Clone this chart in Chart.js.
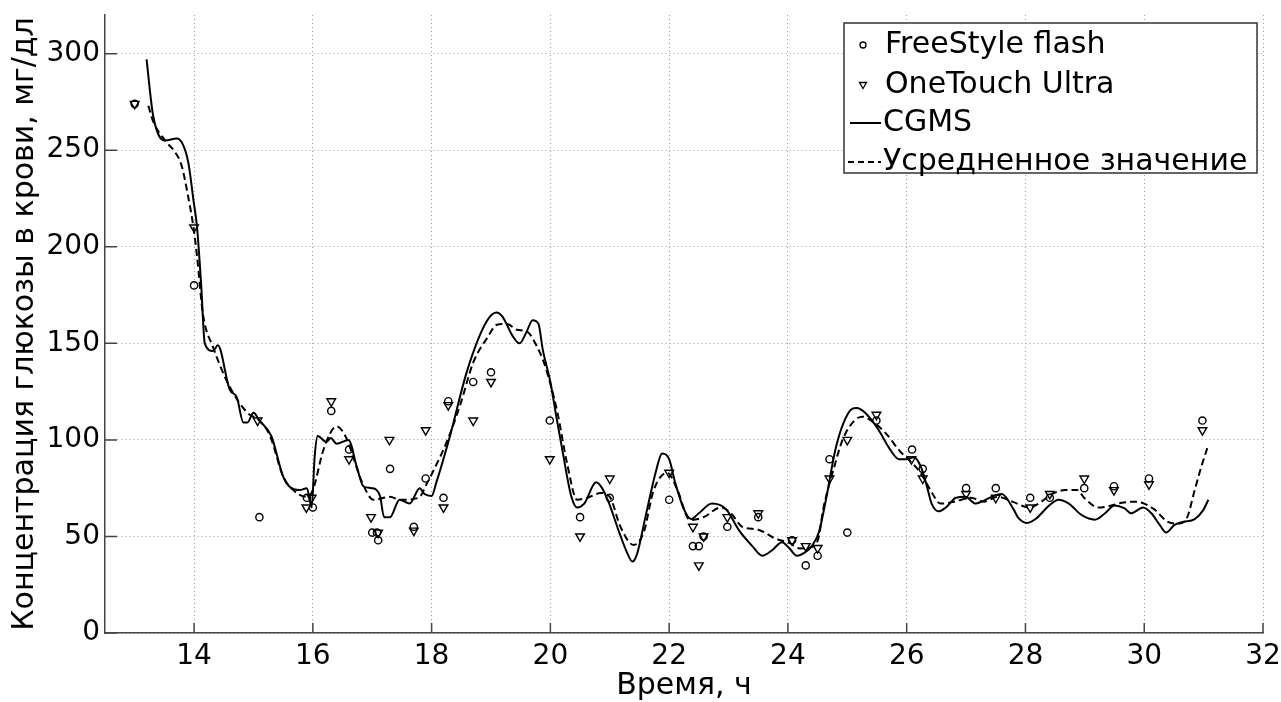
<!DOCTYPE html>
<html>
<head>
<meta charset="utf-8">
<script src="https://cdn.jsdelivr.net/npm/chart.js@4/dist/chart.umd.min.js"></script>
<style>
  html, body { margin: 0; padding: 0; background: #fff; }
  #wrap { width: 1281px; height: 702px; }
</style>
</head>
<body>
<div id="wrap"><canvas id="glucose" width="1281" height="702"></canvas></div>
<script>
// Blood glucose over time: two meters (markers), CGMS and the averaged curve

// --- CGMS (solid line) ---
const cgmsTime = [13.2, 13.31, 13.51, 13.71, 13.9, 13.99, 14.05, 14.12, 14.18, 14.32, 14.4, 14.6, 14.72, 14.83, 14.9, 15.0, 15.1, 15.3, 15.5, 15.6, 15.78, 15.9, 15.98, 16.03, 16.08, 16.23, 16.3, 16.4, 16.6, 16.74, 16.85, 16.99, 17.13, 17.2, 17.3, 17.46, 17.63, 17.8, 17.88, 18.0, 18.08, 18.3, 18.6, 18.92, 19.09, 19.19, 19.36, 19.48, 19.6, 19.7, 19.8, 19.87, 20.0, 20.1, 20.2, 20.35, 20.45, 20.57, 20.77, 20.87, 20.99, 21.16, 21.3, 21.38, 21.46, 21.6, 21.78, 21.88, 22.0, 22.1, 22.25, 22.37, 22.5, 22.72, 22.96, 23.18, 23.4, 23.57, 23.74, 23.9, 24.02, 24.15, 24.3, 24.4, 24.52, 24.64, 24.8, 24.94, 25.08, 25.16, 25.3, 25.53, 25.7, 25.87, 26.0, 26.12, 26.24, 26.34, 26.42, 26.54, 26.66, 26.83, 26.99, 27.16, 27.26, 27.43, 27.6, 27.8, 27.88, 28.03, 28.17, 28.4, 28.56, 28.73, 28.95, 29.17, 29.34, 29.5, 29.67, 29.78, 29.98, 30.12, 30.26, 30.37, 30.51, 30.65, 30.85, 30.99, 31.08];
const cgmsValue = [297, 268, 255, 256, 244, 224, 210, 180, 150, 146, 149, 126, 122, 109, 109, 114, 110, 102, 81, 76, 74, 75, 65, 91, 102, 99, 101, 98, 100, 86, 76, 75, 71, 60, 60, 69, 67, 75, 72, 71, 78, 101, 136, 161, 166, 164, 154, 150, 156, 162, 160, 147, 130, 112, 95, 71, 65, 67, 78, 75, 67, 52, 41, 37, 41, 60, 84, 93, 90, 78, 64, 59, 62, 67, 64, 53, 45, 40, 43, 47, 44, 40, 42, 45, 52, 69, 95, 109, 116, 116.5, 114, 105, 96, 90, 90, 91, 86, 76, 67, 63, 65, 70, 70.5, 67, 68, 70.5, 72, 64, 59.6, 57, 59, 66, 69, 67, 61, 58.7, 62, 66, 64.5, 62, 65, 62, 56, 52, 56, 57.5, 59, 63.5, 69];

// --- averaged value (dashed line) ---
const avgTime = [13.23, 13.31, 13.54, 13.68, 13.79, 13.9, 13.99, 14.05, 14.15, 14.32, 14.6, 14.9, 15.1, 15.28, 15.5, 15.67, 15.9, 16.0, 16.18, 16.4, 16.58, 16.68, 16.83, 17.02, 17.3, 17.47, 17.78, 17.93, 18.03, 18.27, 18.49, 18.7, 18.94, 19.1, 19.27, 19.44, 19.61, 19.78, 19.88, 20.0, 20.12, 20.28, 20.45, 20.62, 20.85, 21.0, 21.18, 21.4, 21.57, 21.74, 21.97, 22.14, 22.35, 22.58, 22.87, 23.04, 23.23, 23.5, 23.78, 24.03, 24.2, 24.33, 24.5, 24.6, 24.78, 24.92, 25.12, 25.26, 25.4, 25.66, 25.89, 26.06, 26.23, 26.4, 26.57, 26.8, 27.08, 27.3, 27.53, 27.78, 28.06, 28.22, 28.45, 28.67, 28.87, 29.0, 29.23, 29.45, 29.62, 29.83, 30.0, 30.17, 30.4, 30.57, 30.71, 30.85, 30.96, 31.07];
const avgValue = [273, 265, 254, 249, 242, 226, 210, 195, 165, 148, 127.5, 114, 110, 102, 81, 74, 70.5, 74, 95, 107, 100, 91, 78, 69, 70.5, 69, 70, 78, 84, 100, 119, 140, 153, 159.6, 160, 157, 156, 148, 141, 129, 114, 88, 69, 70, 72.5, 70.5, 55, 45.6, 52, 74, 83, 74, 58.5, 60, 65, 62, 55, 53.5, 49, 46.5, 43.8, 44, 47.7, 65, 86, 100, 110, 112, 110, 103, 94, 89, 83, 74, 67, 68, 70, 68, 70.5, 68, 65, 67, 72, 74, 74, 69.6, 65, 66, 67.4, 68, 67, 64, 57.5, 56.6, 59, 74, 86, 96.5];

// --- FreeStyle flash (circles) ---
const freeStyleTime = [13.0, 14.0, 15.1, 15.9, 16.0, 16.31, 16.61, 17.0, 17.08, 17.1, 17.3, 17.7, 17.9, 18.2, 18.28, 18.7, 19.0, 19.99, 20.5, 21.0, 22.0, 22.4, 22.5, 22.58, 22.98, 23.5, 24.07, 24.3, 24.5, 24.7, 25.0, 25.49, 26.09, 26.27, 27.0, 27.5, 28.08, 28.41, 28.99, 29.49, 30.08, 30.98];
const freeStyleValue = [274, 180, 60, 70, 65, 115, 95, 52, 52, 48, 85, 55, 80, 70, 120, 130, 135, 110, 60, 70, 69, 45, 45, 50, 55, 60, 48, 35, 40, 90, 52, 110, 95, 85, 75, 75, 70, 70, 75, 76, 80, 110];

// --- OneTouch Ultra (down triangles) ---
const oneTouchTime = [13.0, 14.0, 15.07, 15.89, 15.98, 16.31, 16.61, 16.98, 17.1, 17.29, 17.7, 17.9, 18.2, 18.28, 18.7, 19.0, 19.99, 20.5, 21.0, 22.0, 22.4, 22.5, 22.58, 22.98, 23.5, 24.07, 24.3, 24.5, 24.7, 25.0, 25.49, 26.08, 26.27, 27.0, 27.5, 28.08, 28.41, 28.99, 29.49, 30.08, 30.98];
const oneTouchValue = [274, 210, 110, 65, 70, 120, 90, 60, 52, 100, 53, 105, 65, 118, 110, 130, 90, 50, 80, 83, 55, 35, 50, 60, 62, 48, 45, 44, 80, 100, 113, 90, 80, 72, 70, 65, 72, 80, 74, 77, 105];

const xTicks = [14, 16, 18, 20, 22, 24, 26, 28, 30, 32];
const yTicks = [0, 50, 100, 150, 200, 250, 300];

const seriesNames = ['FreeStyle flash', 'OneTouch Ultra', 'CGMS', 'Усредненное значение'];

const toPoints = (xs, ys) => xs.map((x, i) => ({ x, y: ys[i] }));

const FONT = '"DejaVu Sans", Verdana, sans-serif';
Chart.defaults.font.family = FONT;
Chart.defaults.font.size = 28;
Chart.defaults.color = '#000';

// small inward tick marks like the original plot
const innerTicks = {
  id: 'innerTicks',
  afterDatasetsDraw(chart) {
    const { ctx, chartArea, scales: { x, y } } = chart;
    ctx.save();
    ctx.strokeStyle = '#444';
    ctx.lineWidth = 1.5;
    ctx.beginPath();
    x.ticks.forEach(t => {
      const px = x.getPixelForValue(t.value);
      ctx.moveTo(px, chartArea.bottom);
      ctx.lineTo(px, chartArea.bottom - 10);
    });
    y.ticks.forEach(t => {
      const py = y.getPixelForValue(t.value);
      ctx.moveTo(chartArea.left, py);
      ctx.lineTo(chartArea.left + 12, py);
    });
    ctx.stroke();
    ctx.restore();
  }
};

// boxed legend in the upper right corner
const boxLegend = {
  id: 'boxLegend',
  afterDraw(chart) {
    const { ctx, chartArea } = chart;
    const right = chartArea.right - 6, top = chartArea.top + 8;
    const w = 413, h = 150, left = right - w;
    ctx.save();
    ctx.fillStyle = '#fff';
    ctx.fillRect(left, top, w, h);
    ctx.strokeStyle = '#333';
    ctx.lineWidth = 1.5;
    ctx.strokeRect(left, top, w, h);

    const rows = [top + 22, top + 62, top + 100, top + 139];
    const symX = left + 19, textX = left + 39;

    ctx.strokeStyle = '#000';
    ctx.lineWidth = 1.3;
    // circle
    ctx.beginPath();
    ctx.arc(symX, rows[0], 3, 0, Math.PI * 2);
    ctx.stroke();
    // down triangle
    ctx.beginPath();
    ctx.moveTo(symX - 3.5, rows[1] - 2.5);
    ctx.lineTo(symX + 3.5, rows[1] - 2.5);
    ctx.lineTo(symX, rows[1] + 3.5);
    ctx.closePath();
    ctx.stroke();
    // solid
    ctx.lineWidth = 2;
    ctx.beginPath();
    ctx.moveTo(left + 6, rows[2]);
    ctx.lineTo(left + 37, rows[2]);
    ctx.stroke();
    // dashed
    ctx.setLineDash([6, 4]);
    ctx.beginPath();
    ctx.moveTo(left + 4, rows[3]);
    ctx.lineTo(left + 37, rows[3]);
    ctx.stroke();
    ctx.setLineDash([]);

    ctx.fillStyle = '#000';
    ctx.font = '30px ' + FONT;
    ctx.textBaseline = 'middle';
    ctx.textAlign = 'left';
    ctx.fillText(seriesNames[0], textX + 2, rows[0]);
    ctx.fillText(seriesNames[1], textX + 2, rows[1]);
    ctx.fillText(seriesNames[2], textX, rows[2]);
    ctx.fillText(seriesNames[3], textX, rows[3]);
    ctx.restore();
  }
};

new Chart(document.getElementById('glucose'), {
  type: 'scatter',
  data: {
    datasets: [
      {
        label: seriesNames[2],
        data: toPoints(cgmsTime, cgmsValue),
        showLine: true,
        borderColor: '#000',
        borderWidth: 2,
        pointRadius: 0,
        cubicInterpolationMode: 'monotone'
      },
      {
        label: seriesNames[3],
        data: toPoints(avgTime, avgValue),
        showLine: true,
        borderColor: '#000',
        borderWidth: 2,
        borderDash: [7, 4],
        pointRadius: 0,
        cubicInterpolationMode: 'monotone'
      },
      {
        label: seriesNames[0],
        data: toPoints(freeStyleTime, freeStyleValue),
        pointStyle: 'circle',
        pointRadius: 3.6,
        borderColor: '#000',
        borderWidth: 1.4,
        backgroundColor: 'rgba(255,255,255,0)'
      },
      {
        label: seriesNames[1],
        data: toPoints(oneTouchTime, oneTouchValue),
        pointStyle: 'triangle',
        rotation: 180,
        pointRadius: 5,
        borderColor: '#000',
        borderWidth: 1.4,
        backgroundColor: 'rgba(255,255,255,0)'
      }
    ]
  },
  options: {
    responsive: false,
    animation: false,
    devicePixelRatio: 1,
    layout: { padding: { top: 15, right: 18, left: 0, bottom: 0 } },
    plugins: {
      legend: { display: false },
      tooltip: { enabled: false }
    },
    scales: {
      x: {
        type: 'linear',
        min: 12.5,
        max: 32,
        afterBuildTicks: s => { s.ticks = xTicks.map(v => ({ value: v })); },
        afterFit: s => { s.height = 69; s.paddingLeft = 0; s.paddingRight = 0; },
        ticks: { padding: 7, maxRotation: 0, autoSkip: false },
        grid: { color: '#a0a0a0', lineWidth: 1, drawTicks: false },
        border: { display: true, color: '#444', width: 1.5, dash: [1, 3] },
        title: { display: true, text: 'Время, ч', font: { size: 30 }, padding: { top: 0, bottom: -2 } }
      },
      y: {
        type: 'linear',
        min: 0,
        max: 320,
        afterBuildTicks: s => { s.ticks = yTicks.map(v => ({ value: v })); },
        afterFit: s => { s.width = 105; s.paddingTop = 0; s.paddingBottom = 0; },
        ticks: { padding: 5 },
        grid: { color: '#a0a0a0', lineWidth: 1, drawTicks: false },
        border: { display: true, color: '#444', width: 1.5, dash: [1, 3] },
        title: { display: true, text: 'Концентрация глюкозы в крови, мг/дл', font: { size: 30 }, padding: { top: 7, bottom: 0 } }
      }
    }
  },
  plugins: [innerTicks, boxLegend]
});
</script>
</body>
</html>
